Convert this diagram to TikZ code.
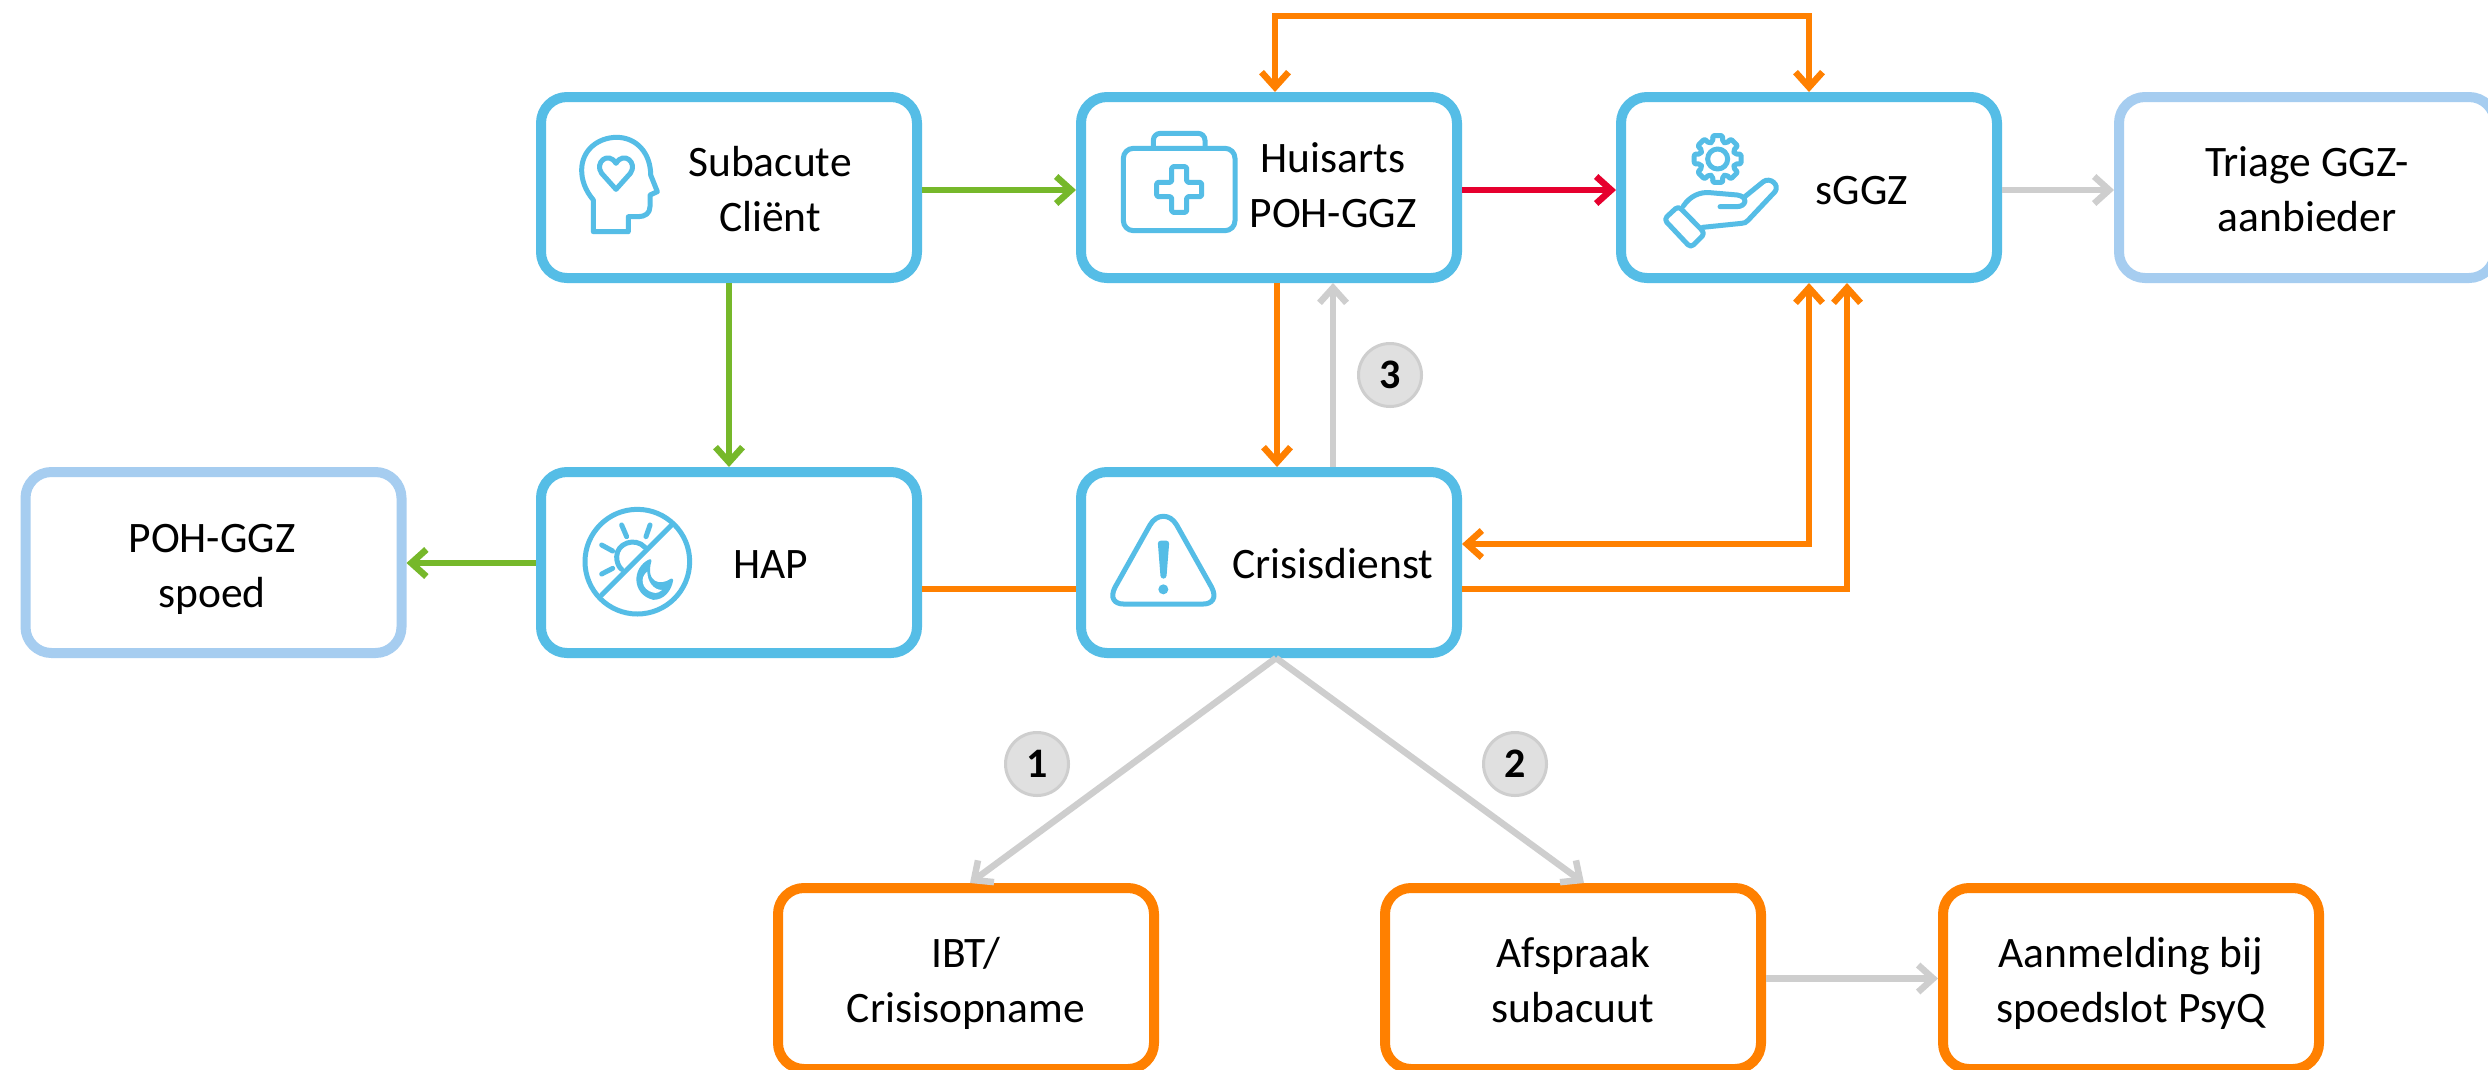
\documentclass[tikz,border=0pt]{standalone}
\usepackage{fontspec}
\setmainfont{Carlito}
\usetikzlibrary{arrows.meta,calc}
\definecolor{cblue}{HTML}{55BDE6}
\definecolor{clight}{HTML}{A6CDF0}
\definecolor{corange}{HTML}{FF8000}
\definecolor{cgreen}{HTML}{76B82A}
\definecolor{cred}{HTML}{E6002E}
\definecolor{cgray}{HTML}{CECECE}
\definecolor{cnum}{HTML}{E0E0E0}
\tikzset{
  bx/.style={draw=#1,line width=10pt,rounded corners=26pt,fill=white,minimum width=376pt,minimum height=181pt,inner sep=0pt},
  lbl/.style={font=\fontsize{43.5}{55}\selectfont,align=center,anchor=base,inner sep=0pt,text=black},
  tipb/.tip={Straight Barb[length=15pt,width=27pt,line width=6.5pt]},
  ar/.style={draw=#1,line width=6.5pt,-{tipb},line join=miter},
  arr/.style={draw=#1,line width=6.5pt,{tipb}-{tipb},line join=miter},
  ln/.style={draw=#1,line width=6.5pt},
  num/.style={circle,draw=cgray,line width=3pt,fill=cnum,minimum size=63pt,inner sep=0pt,font=\fontsize{42}{50}\selectfont\bfseries,text=black},
  ic/.style={draw=cblue,line width=5pt,line cap=round,line join=round},
}
\begin{document}
\begin{tikzpicture}[x=1pt,y=-1pt]
\path[use as bounding box,clip] (0,0) rectangle (2488,1069);
\fill[white] (0,0) rectangle (2488,1069);

% boxes
\node[bx=cblue] (sub) at (729,187.5) {};
\node[bx=cblue] (hui) at (1269,187.5) {};
\node[bx=cblue] (sgz) at (1809,187.5) {};
\node[bx=clight] (tri) at (2307,187.5) {};
\node[bx=clight] (pos) at (213.5,562.5) {};
\node[bx=cblue] (hap) at (729,562.5) {};
\node[bx=cblue] (cri) at (1269,562.5) {};
\node[bx=corange] (ibt) at (966,978.5) {};
\node[bx=corange] (afs) at (1573,978.5) {};
\node[bx=corange] (aan) at (2131,978.5) {};

% labels
\node[lbl] (tsub) at (770,231) {Subacute\\Cliënt};
\node[lbl] (thui) at (1333,227) {Huisarts\\POH-GGZ};
\node[lbl] (tsgz) at (1862,204) {sGGZ};
\node[lbl] (ttri) at (2307,231) {Triage GGZ-\\aanbieder};
\node[lbl] (tpos) at (212,607) {POH-GGZ\\spoed};
\node[lbl] (thap) at (771,578) {HAP};
\node[lbl] (tcri) at (1333,578) {Crisisdienst};
\node[lbl] (tibt) at (966,1022) {IBT/\\Crisisopname};
\node[lbl] (tafs) at (1573,1022) {Afspraak\\subacuut};
\node[lbl] (taan) at (2131,1022) {Aanmelding bij\\spoedslot PsyQ};

% helpers
\coordinate (ytop) at (0,16);
\coordinate (yc1) at (0,544);
\coordinate (xc1) at (1847,0);
\coordinate (yc2) at (0,589);
\coordinate (huitop) at ([xshift=6pt]hui.north);

% connectors
\draw[ar=cgreen] ([yshift=-2.5pt]sub.east) -- ([yshift=-2.5pt]hui.west);
\draw[ar=cred] ([yshift=-2.5pt]hui.east) -- ([yshift=-2.5pt]sgz.west);
\draw[ar=cgray] ([yshift=-2.5pt]sgz.east) -- ([yshift=-2.5pt]tri.west);
\draw[ar=cgreen] (sub.south) -- (hap.north);
\draw[ar=cgreen] ([yshift=-0.5pt]hap.west) -- ([yshift=-0.5pt]pos.east);
\draw[ln=corange] ([yshift=-26.5pt]hap.east) -- ([yshift=-26.5pt]cri.west);
\draw[ar=corange] ([xshift=8pt]hui.south) -- ([xshift=8pt]cri.north);
\draw[ar=cgray] ([xshift=64pt]cri.north) -- ([xshift=64pt]hui.south);
\draw[arr=corange] (huitop) -- (huitop |- ytop) -- (sgz.north |- ytop) -- (sgz.north);
\draw[arr=corange] (sgz.south) -- (sgz.south |- yc1) -- (cri.east |- yc1);
\draw[ar=corange] (cri.east |- yc2) -- (xc1 |- yc2) -- (xc1 |- sgz.south);
\draw[ar=cgray] ([xshift=7pt]cri.south) -- ([xshift=4pt]ibt.north);
\draw[ar=cgray] ([xshift=7pt]cri.south) -- ([xshift=11pt]afs.north);
\draw[ar=cgray] (afs.east) -- (aan.west);

% numbers
\node[num] (n1) at (1037,764) {1};
\node[num] (n2) at (1515,764) {2};
\node[num] (n3) at (1390,375) {3};

% icon: head
\begin{scope}[shift={(520,80)},scale=1/3]
\draw[ic] (220,455) -- (220,360) .. controls (195,330) and (185,300) .. (185,270)
  .. controls (185,210) and (235,172) .. (290,172)
  .. controls (350,172) and (392,220) .. (392,285) -- (412,335) -- (390,345) -- (390,380)
  .. controls (390,400) and (375,410) .. (355,410) -- (325,410) -- (325,455) -- cycle;
\draw[ic] (288,328) -- (245,280) .. controls (222,248) and (265,212) .. (288,250)
  .. controls (311,212) and (354,248) .. (331,280) -- cycle;
\end{scope}

% icon: medical case
\begin{scope}[shift={(1060,0)},scale=1/3]
\draw[ic,rounded corners=10pt] (190,445) rectangle (525,692);
\draw[ic,rounded corners=7pt] (280,445) -- (280,400) -- (435,400) -- (435,445);
\draw[ic,rounded corners=1.5pt] (335,500) -- (380,500) -- (380,547) -- (425,547) -- (425,590) -- (380,590) -- (380,637) -- (335,637) -- (335,590) -- (290,590) -- (290,547) -- (335,547) -- cycle;
\end{scope}

% icon: gear and hand
\begin{scope}[shift={(1600,80)},scale=1/3]
\begin{scope}[shift={(353,237)}]
\draw[ic] (0,0) circle[radius=30];
\draw[ic,rounded corners=2pt] (78:72) foreach \a in {90,135,180,225,270,315,360,405}{
  -- (\a-12:72) -- (\a+12:72) -- (\a+16:53) -- (\a+29:53)} -- cycle;
\end{scope}
\draw[ic,rounded corners=4pt] (192,418) -- (235,378) -- (315,460) -- (272,503) -- cycle;
\draw[ic] (250,378) .. controls (270,348) and (300,335) .. (330,338) -- (412,345)
  .. controls (445,350) and (440,380) .. (410,380) -- (360,380);
\draw[ic] (432,352) -- (490,305) .. controls (510,290) and (540,315) .. (525,335)
  -- (445,420) .. controls (440,427) and (432,430) .. (425,430) -- (308,442);
\end{scope}

% icon: day/night
\begin{scope}[shift={(570,490)},scale=1/3]
\draw[ic] (202,215) circle[radius=157];
\draw[ic] (95,315) -- (305,105);
\draw[ic] (225,172) .. controls (195,140) and (140,160) .. (140,200)
  .. controls (140,215) and (145,230) .. (155,238);
\draw[ic] (155,105) -- (170,140);
\draw[ic] (240,105) -- (228,140);
\draw[ic] (95,165) -- (128,183);
\draw[ic] (95,252) -- (128,235);
\draw[ic,fill=cblue,line width=3pt] (240,212) .. controls (190,235) and (190,310) .. (250,325)
  .. controls (280,325) and (300,300) .. (305,270)
  .. controls (270,295) and (220,280) .. (240,212) -- cycle;
\fill[white] (232,245) .. controls (210,260) and (212,298) .. (250,308)
  .. controls (262,310) and (270,306) .. (276,300)
  .. controls (250,300) and (232,275) .. (232,245) -- cycle;
\end{scope}

% icon: warning
\begin{scope}[shift={(1100,500)},scale=1/3]
\draw[ic] (150,75) .. controls (170,40) and (210,40) .. (230,75) -- (335,262)
  .. controls (352,295) and (335,312) .. (310,312) -- (70,312)
  .. controls (45,312) and (28,295) .. (45,262) -- cycle;
\fill[cblue,rounded corners=3pt] (173,122) -- (208,122) -- (199,236) -- (182,236) -- cycle;
\fill[cblue] (190,268) circle[radius=15];
\end{scope}
\end{tikzpicture}
\end{document}
